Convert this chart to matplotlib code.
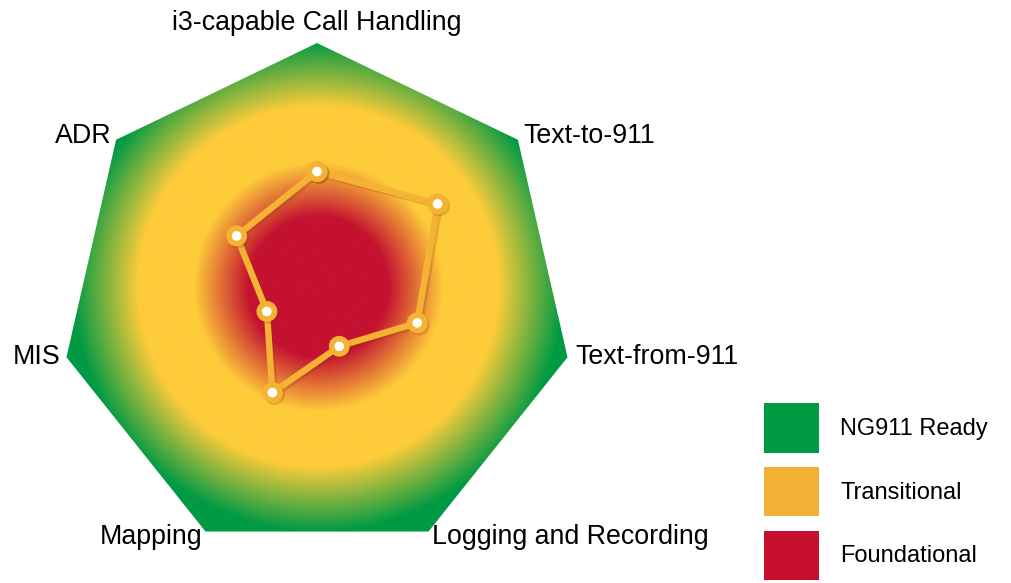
import numpy as np
import matplotlib
matplotlib.use("Agg")
import matplotlib.pyplot as plt
import matplotlib.patheffects as pe
from matplotlib.patches import Polygon, Patch

plt.rcParams['font.family'] = ['Liberation Sans', 'DejaVu Sans']

# categories clockwise from the top
categories = ["i3-capable Call Handling", "Text-to-911", "Text-from-911",
              "Logging and Recording", "Mapping", "MIS", "ADR"]
scores = [2.5, 3, 2, 1, 2, 1, 2]
max_score = 5

legend_labels = ["NG911 Ready", "Transitional", "Foundational"]
legend_colors = ["#009A44", "#F0B135", "#C8102E"]

# background gradient colours
red = "#C41230"
yellow = "#FECC3A"
green = "#009A44"
line_color = "#F5B335"

n = len(categories)
angles = np.pi / 2 - 2 * np.pi * np.arange(n) / n

fig = plt.figure(figsize=(10.11, 5.83), dpi=100)
ax = fig.add_axes([0, 0, 1, 1])
ax.set_xlim(-6.167, 13.502)
ax.set_ylim(-5.506, 5.837)
ax.set_aspect("equal")
ax.axis("off")

# heptagon outline
vx = max_score * np.cos(angles)
vy = max_score * np.sin(angles)
hept = Polygon(np.column_stack([vx, vy]), closed=True, facecolor="none",
               edgecolor="none")
ax.add_patch(hept)

# radial gradient image clipped to the heptagon
g = np.linspace(-5.2, 5.2, 900)
gx, gy = np.meshgrid(g, g)
rr = np.hypot(gx - 0.02, gy - 0.25)
t1 = np.clip((rr - 1.36) / (2.43 - 1.36), 0, 1)[..., None]
t2 = np.clip((rr - 3.5) / (4.77 - 3.5), 0, 1)[..., None]
c_red, c_yel, c_grn = (np.array(matplotlib.colors.to_rgb(c)) for c in (red, yellow, green))
img = (c_red * (1 - t1) + c_yel * t1) * (1 - t2) + c_grn * t2
im = ax.imshow(img, extent=[-5.2, 5.2, -5.2, 5.2], origin="lower",
               interpolation="bilinear", zorder=1)
im.set_clip_path(hept)

# score polygon
sx = np.array(scores) * np.cos(angles)
sy = np.array(scores) * np.sin(angles)
ax.plot(np.append(sx, sx[0]), np.append(sy, sy[0]), color=line_color,
        lw=4.6, marker="o", ms=11, mfc="white", mec=line_color, mew=4,
        zorder=3,
        path_effects=[pe.SimpleLineShadow(offset=(1.5, -1.5), shadow_color="#7a3000",
                                          alpha=0.2),
                      pe.Normal()])

# axis labels
offsets = [(0, 7), (5, 4), (8, 0), (3, -5), (-3, -5), (-6, 0), (-5, 4)]
aligns = [("center", "bottom"), ("left", "center"), ("left", "center"),
          ("left", "center"), ("right", "center"), ("right", "center"),
          ("right", "center")]
for lab, x, y, off, (ha, va) in zip(categories, vx, vy, offsets, aligns):
    ax.annotate(lab, (x, y), xytext=off, textcoords="offset pixels",
                ha=ha, va=va, fontsize=19.3, color="black")

handles = [Patch(facecolor=c, edgecolor="none") for c in legend_colors]
ax.legend(handles, legend_labels, loc="upper left",
          bbox_to_anchor=(764 / 1011, 1 - 403 / 583), bbox_transform=fig.transFigure,
          frameon=False, fontsize=17, handlelength=2.33, handleheight=2.854,
          handletextpad=0.9, labelspacing=0.6, borderpad=0, borderaxespad=0)

fig.savefig("out.png", dpi=100)
